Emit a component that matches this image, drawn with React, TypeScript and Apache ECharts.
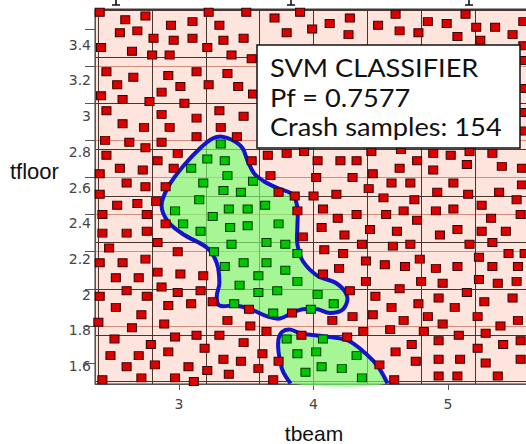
import React, { useEffect, useRef } from 'react';
import * as echarts from 'echarts';

// Axis tick labels
const xTickValues = [3, 4, 5];
const yTickValues = [1.6, 1.8, 2, 2.2, 2.4, 2.6, 2.8, 3, 3.2, 3.4];

// Sampling cells of the design space
const cellStepX = 0.4;
const cellStepY = 0.25;

// Samples classified as safe: [tbeam, tfloor]
const safeSamples: number[][] = [
  [2.41, 3.49], [2.60, 3.45], [2.75, 3.47], [2.94, 3.42], [3.10, 3.44],
  [2.56, 3.38], [2.69, 3.39], [2.81, 3.35], [2.96, 3.34], [3.10, 3.35],
  [2.42, 3.30], [2.65, 3.28], [2.80, 3.26], [2.93, 3.26],
  [2.46, 3.17], [2.66, 3.14], [2.92, 3.15], [3.13, 3.17],
  [2.54, 3.10], [2.87, 3.06], [3.01, 3.09],
  [2.42, 3.04], [2.58, 3.02], [2.78, 3.01], [3.04, 3.00],
  [2.46, 2.96], [2.58, 2.89], [2.74, 2.87], [2.87, 2.94], [2.93, 2.87], [3.13, 2.92],
  [2.45, 2.80], [2.63, 2.79], [2.75, 2.76], [2.87, 2.79], [3.13, 2.82],
  [2.46, 2.72], [2.84, 2.69], [2.99, 2.73],
  [2.56, 2.65], [2.73, 2.64], [2.96, 2.65], [2.41, 2.62],
  [2.61, 2.57], [2.75, 2.55], [2.90, 2.55], [2.41, 2.51],
  [2.54, 2.45], [2.69, 2.46], [2.83, 2.47], [2.43, 2.40], [2.76, 2.40], [2.90, 2.35],
  [2.43, 2.30], [2.61, 2.30], [2.76, 2.31], [2.48, 2.22], [2.84, 2.25], [2.99, 2.20],
  [2.41, 2.14], [2.58, 2.14], [2.75, 2.16], [2.53, 2.06], [2.70, 2.06], [2.84, 2.09], [3.01, 2.08],
  [2.61, 1.99], [2.87, 2.01], [2.99, 1.98], [2.41, 1.96], [2.76, 1.96],
  [2.53, 1.90], [2.92, 1.91], [3.09, 1.92], [2.72, 1.86], [2.40, 1.82], [2.89, 1.81], [2.65, 1.79],
  [2.97, 1.74], [3.13, 1.75], [2.52, 1.73], [2.79, 1.70], [2.92, 1.66], [2.49, 1.64], [2.70, 1.64],
  [2.82, 1.59], [2.61, 1.58], [3.07, 1.58], [2.43, 1.51], [2.72, 1.52], [2.97, 1.52], [3.11, 1.50],
  [3.22, 3.49], [3.30, 3.42], [3.50, 3.49], [3.71, 3.46], [3.90, 3.49], [3.80, 3.38], [3.99, 3.40],
  [4.12, 3.43], [4.27, 3.46], [4.26, 3.37],
  [3.33, 3.34], [3.48, 3.35], [3.21, 3.30], [3.39, 3.26], [3.54, 3.24], [3.36, 3.16], [3.22, 3.10],
  [3.44, 3.09], [3.55, 3.05], [3.30, 2.96], [3.48, 2.93],
  [4.61, 3.48], [4.48, 3.42], [4.85, 3.44], [4.99, 3.43], [5.13, 3.48], [4.64, 3.39], [4.78, 3.38],
  [5.07, 3.36], [5.21, 3.41], [5.35, 3.41], [5.48, 3.37], [5.56, 3.44], [5.24, 3.34],
  [5.56, 3.31], [5.56, 3.23], [5.56, 3.08], [5.55, 2.95], [5.56, 2.85],
  [3.54, 2.69], [3.66, 2.72], [3.80, 2.73], [3.93, 2.74], [4.03, 2.69], [4.20, 2.69], [4.32, 2.69],
  [4.43, 2.74], [4.65, 2.75], [4.89, 2.73], [5.02, 2.72], [5.16, 2.74], [5.33, 2.73],
  [4.44, 2.62], [4.64, 2.65], [4.77, 2.69], [4.89, 2.64], [5.14, 2.67], [5.40, 2.66], [5.55, 2.65],
  [4.29, 2.60], [4.58, 2.57], [4.72, 2.57], [5.04, 2.57], [5.55, 2.56],
  [4.41, 2.54], [4.52, 2.49], [4.75, 2.48], [4.92, 2.52], [5.15, 2.51], [5.38, 2.52], [5.51, 2.48],
  [5.25, 2.45], [4.32, 2.40], [4.54, 2.40], [4.67, 2.42], [4.91, 2.42], [5.04, 2.43], [5.54, 2.40],
  [5.32, 2.38], [4.77, 2.37],
  [4.42, 2.32], [4.62, 2.31], [4.94, 2.29], [5.07, 2.32], [5.25, 2.31], [5.43, 2.31],
  [4.36, 2.24], [4.59, 2.23], [4.72, 2.24], [5.16, 2.24], [5.33, 2.25], [5.45, 2.19], [5.57, 2.19],
  [4.39, 2.15], [4.53, 2.13], [4.68, 2.12], [4.79, 2.16], [4.91, 2.11], [5.07, 2.12], [5.23, 2.17],
  [5.33, 2.12], [5.52, 2.12],
  [4.39, 2.04], [4.64, 2.00], [4.80, 2.04], [4.96, 2.03], [5.14, 1.98], [5.23, 2.05], [5.37, 2.03], [5.51, 2.04],
  [4.27, 1.99], [4.46, 1.96], [4.58, 1.90], [4.78, 1.92], [4.93, 1.95], [5.05, 1.90], [5.27, 1.93], [5.48, 1.95],
  [3.31, 2.87], [3.43, 2.82], [3.68, 2.61], [4.02, 2.60], [3.74, 2.52], [3.86, 2.50], [4.00, 2.50], [4.17, 2.51],
  [3.88, 2.42], [4.07, 2.43], [4.18, 2.38], [4.06, 2.33], [3.92, 2.28], [4.23, 2.29],
  [4.08, 2.21], [4.22, 2.19], [3.18, 2.07], [4.07, 2.08], [4.19, 2.11], [3.16, 1.99], [3.25, 1.93], [3.52, 1.89],
  [3.36, 1.83], [3.53, 1.80], [3.30, 1.75], [3.19, 1.68], [3.48, 1.71], [3.62, 1.65], [3.33, 1.62],
  [3.46, 1.61], [3.21, 1.56], [3.37, 1.54], [3.59, 1.57],
  [3.84, 1.87], [4.14, 1.83], [4.29, 1.85], [4.44, 1.86], [4.67, 1.83], [4.85, 1.85], [4.96, 1.81],
  [5.22, 1.85], [5.39, 1.80], [5.52, 1.83],
  [3.65, 1.77], [3.91, 1.75], [4.25, 1.74], [4.37, 1.77], [4.57, 1.78], [4.82, 1.77], [4.93, 1.72],
  [5.08, 1.75], [5.22, 1.68], [5.28, 1.76], [5.41, 1.70], [5.54, 1.72],
  [3.74, 1.61], [3.70, 1.51], [4.49, 1.59], [4.61, 1.66], [4.73, 1.70], [4.76, 1.61], [4.93, 1.62],
  [5.09, 1.62], [5.28, 1.60], [5.54, 1.62], [4.60, 1.51], [4.93, 1.53], [5.07, 1.53], [5.37, 1.53],
];

// Samples classified as crash: [tbeam, tfloor]
const crashSamples: number[][] = [
  [3.09, 2.65], [3.31, 2.78], [3.21, 2.70], [3.34, 2.69], [3.36, 2.61], [3.18, 2.57], [3.55, 2.58],
  [3.33, 2.53], [3.46, 2.52], [3.15, 2.48], [2.97, 2.42], [3.37, 2.43], [3.51, 2.43], [3.64, 2.45],
  [3.25, 2.39], [3.03, 2.35], [3.38, 2.33], [3.51, 2.34], [3.74, 2.35], [3.16, 2.31], [3.39, 2.24],
  [3.65, 2.25], [3.79, 2.24], [3.88, 2.19], [3.26, 2.20], [3.34, 2.12], [3.48, 2.14], [3.65, 2.14],
  [3.79, 2.10], [3.59, 2.07], [3.88, 2.04], [3.45, 2.02], [3.59, 1.98], [3.73, 1.99], [4.03, 1.97],
  [3.41, 1.92], [4.15, 1.92], [3.70, 1.87], [3.98, 1.89],
  [3.80, 1.73], [4.07, 1.73], [3.88, 1.65], [4.02, 1.66], [4.32, 1.64], [3.94, 1.55], [4.06, 1.58],
  [4.21, 1.57], [4.36, 1.52],
];

// SVM decision boundary around the crash regions
const crashBoundaryUpper: number[][] = [
  [3.32, 2.82], [3.40, 2.80], [3.47, 2.76], [3.51, 2.69], [3.56, 2.62], [3.63, 2.58], [3.74, 2.54],
  [3.84, 2.51], [3.88, 2.44], [3.88, 2.34], [3.88, 2.24], [3.92, 2.15], [4.03, 2.07], [4.17, 2.03],
  [4.25, 1.96], [4.22, 1.89], [4.12, 1.87], [4.03, 1.89], [3.92, 1.89], [3.84, 1.87], [3.75, 1.84],
  [3.66, 1.85], [3.53, 1.89], [3.42, 1.91], [3.30, 1.91], [3.28, 1.96], [3.30, 2.03], [3.28, 2.14],
  [3.21, 2.22], [3.04, 2.29], [2.92, 2.36], [2.87, 2.45], [2.92, 2.55], [3.03, 2.66], [3.16, 2.76],
  [3.25, 2.81],
];
const crashBoundaryLower: number[][] = [
  [3.83, 1.49], [3.77, 1.56], [3.74, 1.66], [3.74, 1.73], [3.77, 1.77], [3.83, 1.78], [3.90, 1.76],
  [4.01, 1.75], [4.12, 1.74], [4.26, 1.72], [4.39, 1.65], [4.48, 1.58], [4.55, 1.49],
];

const classifierInfo = ['SVM CLASSIFIER', 'Pf = 0.7577', 'Crash samples: 154'];

const BLUE = '#1414c8';
const GREEN_FILL = 'rgba(120, 255, 110, 0.65)';
const RED_GRID = '#d98e7c';
const DARK_GRID = '#4a3430';

export default function App() {
  const ref = useRef<HTMLDivElement>(null);

  useEffect(() => {
    if (!ref.current) return;
    const chart = echarts.init(ref.current, undefined, { renderer: 'svg' });

    const tickLabel = (v: number) =>
      yTickValues.some((t) => Math.abs(t - v) < 1e-6) ? String(Math.round(v * 10) / 10) : '';

    const option: any = {
      animation: false,
      backgroundColor: '#ffffff',
      grid: {
        left: 95,
        top: 9,
        width: 460.6,
        height: 375,
        outerBoundsMode: 'none',
        containLabel: false,
        show: true,
        backgroundColor: '#fde4dc',
        borderColor: '#3a3a3a',
        borderWidth: 1,
      },
      xAxis: [
        {
          type: 'value',
          min: 2.375,
          max: 5.8,
          minInterval: 1,
          maxInterval: 1,
          position: 'bottom',
          axisLine: { show: true, onZero: false, lineStyle: { color: '#555', width: 1 } },
          axisTick: { show: true, inside: false, length: 6, customValues: xTickValues, lineStyle: { color: '#555' } },
          axisLabel: {
            customValues: xTickValues,
            margin: 13,
            color: '#444',
            fontFamily: 'DejaVu Sans',
            fontSize: 14,
            formatter: (v: number) => (xTickValues.includes(v) ? String(v) : ''),
          },
          splitLine: { show: true, showMinLine: false, showMaxLine: false, lineStyle: { color: RED_GRID, width: 1 } },
        },
        {
          type: 'value',
          min: 2.375,
          max: 5.8,
          minInterval: cellStepX,
          maxInterval: cellStepX,
          position: 'top',
          axisLine: { show: false },
          axisTick: { show: false },
          axisLabel: { show: false },
          splitLine: { show: true, lineStyle: { color: DARK_GRID, width: 1 } },
        },
      ],
      yAxis: [
        {
          type: 'value',
          min: 1.487,
          max: 3.508,
          minInterval: 0.2,
          maxInterval: 0.2,
          position: 'left',
          axisLine: { show: true, onZero: false, lineStyle: { color: '#555', width: 1 } },
          axisTick: { show: true, inside: false, length: 10, customValues: yTickValues, lineStyle: { color: '#555' } },
          axisLabel: { show: false },
          splitLine: { show: true, showMinLine: false, showMaxLine: false, lineStyle: { color: RED_GRID, width: 1 } },
        },
        {
          type: 'value',
          min: 1.5,
          max: 3.6,
          minInterval: 0.2,
          maxInterval: 0.2,
          position: 'left',
          axisLine: { show: false },
          axisTick: { show: false },
          splitLine: { show: false },
          axisLabel: {
            customValues: yTickValues,
            margin: 4,
            color: '#444',
            fontFamily: 'DejaVu Sans',
            fontSize: 14,
            formatter: tickLabel,
          },
        },
        {
          type: 'value',
          min: 1.487,
          max: 3.508,
          minInterval: cellStepY,
          maxInterval: cellStepY,
          position: 'left',
          axisLine: { show: false },
          axisTick: { show: false },
          axisLabel: { show: false },
          splitLine: { show: true, lineStyle: { color: DARK_GRID, width: 1 } },
        },
      ],
      series: [
        {
          type: 'custom',
          xAxisIndex: 0,
          yAxisIndex: 0,
          silent: true,
          z: 2,
          data: [[3.5, 2.2]],
          renderItem: (_params: any, api: any) => {
            const upper = crashBoundaryUpper.map((p) => api.coord(p));
            const lower = crashBoundaryLower.map((p) => api.coord(p));
            return {
              type: 'group',
              children: [
                {
                  type: 'polygon',
                  shape: { points: upper, smooth: 0.35 },
                  style: { fill: GREEN_FILL, stroke: BLUE, lineWidth: 4 },
                },
                {
                  type: 'polygon',
                  shape: { points: lower, smooth: 0.35 },
                  style: { fill: GREEN_FILL, stroke: 'none' },
                },
                {
                  type: 'polyline',
                  shape: { points: lower, smooth: 0.35 },
                  style: { fill: 'none', stroke: BLUE, lineWidth: 4 },
                },
              ],
            };
          },
        },
        {
          type: 'scatter',
          name: 'safe',
          xAxisIndex: 0,
          yAxisIndex: 0,
          silent: true,
          z: 4,
          data: safeSamples,
          symbol: 'rect',
          symbolSize: [9, 8],
          itemStyle: { color: '#dc0000', borderColor: '#3a0000', borderWidth: 1, opacity: 1 },
        },
        {
          type: 'scatter',
          name: 'crash',
          xAxisIndex: 0,
          yAxisIndex: 0,
          silent: true,
          z: 4,
          data: crashSamples,
          symbol: 'rect',
          symbolSize: [9, 8],
          itemStyle: { color: '#00c800', borderColor: '#003a00', borderWidth: 1, opacity: 1 },
        },
      ],
      graphic: [
        // remnants of the panel above
        ...[116, 291, 469].map((x) => ({
          type: 'polyline',
          shape: { points: [[x, 0], [x, 5], [x - 4, 5], [x + 4, 5]] },
          style: { stroke: '#111', lineWidth: 1.6, fill: 'none' },
          z: 50,
        })),
        {
          type: 'rect',
          shape: { x: 257, y: 45, width: 263, height: 103 },
          style: { fill: '#ffffff', stroke: '#111', lineWidth: 1.5 },
          z: 100,
        },
        ...classifierInfo.map((t, i) => ({
          type: 'text',
          x: 270,
          y: 67.5 + i * 29.6,
          scaleX: 1.11,
          z: 101,
          style: {
            text: t,
            fill: '#111',
            fontFamily: 'Lato',
            fontSize: 24.5,
            lineHeight: 28,
            align: 'left',
            verticalAlign: 'middle',
          },
        })),
        {
          type: 'text',
          x: 10,
          y: 171,
          z: 101,
          style: { text: 'tfloor', fill: '#111', fontFamily: 'Liberation Sans', fontSize: 22, align: 'left', verticalAlign: 'middle' },
        },
        {
          type: 'text',
          x: 314,
          y: 433,
          z: 101,
          style: { text: 'tbeam', fill: '#111', fontFamily: 'Liberation Sans', fontSize: 21, align: 'center', verticalAlign: 'middle' },
        },
      ],
    };

    chart.setOption(option);
    return () => chart.dispose();
  }, []);

  return (
    <div
      ref={ref}
      style={{ position: 'fixed', left: 0, top: 0, width: 526, height: 444, overflow: 'hidden', background: '#fff' }}
    />
  );
}
